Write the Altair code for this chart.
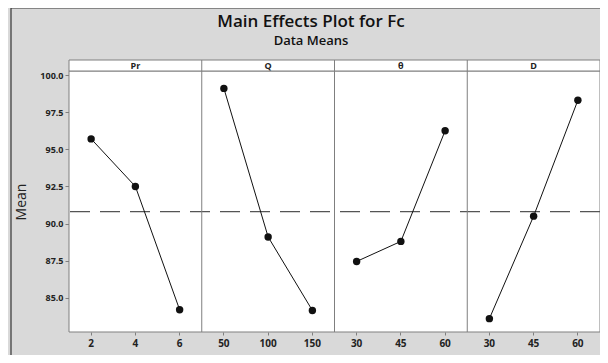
import altair as alt
import pandas as pd

title_text = "Main Effects Plot for Fc"
subtitle_text = "Data Means"
factors = ["Pr", "Q", "θ", "D"]
levels = [["2", "4", "6"], ["50", "100", "150"], ["30", "45", "60"], ["30", "45", "60"]]
means = [[95.7, 92.5, 84.2], [99.1, 89.1, 84.15], [87.45, 88.8, 96.25], [83.6, 90.5, 98.3]]
y_ticks = [85.0, 87.5, 90.0, 92.5, 95.0, 97.5, 100.0]

rows = []
for f, lv, mv in zip(factors, levels, means):
    for i, (l, m) in enumerate(zip(lv, mv)):
        rows.append({"factor": f, "level": l, "key": f + "|" + l, "idx": i, "value": m})
df = pd.DataFrame(rows)
keys = list(df["key"])

W, H = 531, 261
STRIP = 11
GRID = "#7f7f7f"
BG = "#d9d9d9"

xenc = alt.X("key:N", sort=keys, title=None,
             scale=alt.Scale(type="band", paddingInner=0, paddingOuter=0),
             axis=alt.Axis(labelExpr="split(datum.label, '|')[1]", labelAngle=0,
                           bandPosition=0.5, domain=False, tickSize=3, tickColor=GRID,
                           labelFontWeight="bold", labelFontSize=10, labelColor="#222",
                           labelPadding=3, grid=False))
yscale = alt.Scale(domain=[82.7, 100.27], nice=False, zero=False)
yenc = alt.Y("value:Q", scale=yscale, title="Mean",
             axis=alt.Axis(values=y_ticks, format=".1f", domain=False, tickSize=4,
                           tickColor=GRID, labelFontWeight="bold", labelFontSize=9,
                           labelColor="#222", labelPadding=2, grid=False,
                           titleFontSize=14, titleFontWeight="normal", titleColor="#222",
                           titlePadding=11))

base = alt.Chart(df)
one = alt.Chart(pd.DataFrame({"a": [0]}))

panel_bg = one.mark_rect(fill="white", stroke=GRID, strokeWidth=1).encode(
    x=alt.value(0), x2=alt.value(W), y=alt.value(0), y2=alt.value(H))

border = one.mark_rule(color="#333", strokeWidth=1.2).encode(
    x=alt.value(-58), y=alt.value(-63), y2=alt.value(H + 30))
border_top = one.mark_rule(color="#333", strokeWidth=1.2).encode(
    x=alt.value(-58), x2=alt.value(W + 10), y=alt.value(-63))

title = one.mark_text(font="Open Sans", fontSize=17, fontWeight=600, color="#111",
                      baseline="alphabetic", align="center").encode(
    x=alt.value(242), y=alt.value(-44.5), text=alt.value(title_text))
subtitle = one.mark_text(font="Open Sans", fontSize=13, fontWeight=600, color="#111",
                         baseline="alphabetic", align="center").encode(
    x=alt.value(242), y=alt.value(-26), text=alt.value(subtitle_text))

strip = one.mark_rect(fill="white", stroke=GRID, strokeWidth=1).encode(
    x=alt.value(0), x2=alt.value(W), y=alt.value(-STRIP), y2=alt.value(0))

dividers = base.transform_filter("datum.idx == 0 && datum.factor != 'Pr'").mark_rule(
    color=GRID, strokeWidth=1).encode(
    x=alt.X("key:N", sort=keys, bandPosition=0), y=alt.value(-STRIP), y2=alt.value(H))

labels = base.transform_filter("datum.idx == 1").mark_text(
    fontWeight="bold", fontSize=9, color="#222", baseline="middle").encode(
    x=alt.X("key:N", sort=keys, bandPosition=0.5), y=alt.value(-STRIP / 2), text="factor:N")

meanline = base.mark_rule(color="#555", strokeWidth=1.3, strokeDash=[20, 10]).encode(
    y=alt.Y("mean(value):Q", scale=yscale))

lines = base.mark_line(color="#111", strokeWidth=1).encode(
    x=xenc, y=yenc, detail="factor:N")
points = base.mark_point(filled=True, color="#111", size=55, opacity=1, shape="circle").encode(
    x=alt.X("key:N", sort=keys, bandPosition=0.5), y=alt.Y("value:Q", scale=yscale))

chart = alt.layer(panel_bg, border, border_top, title, subtitle, strip, meanline, lines,
                  dividers, points, labels).properties(
    width=W, height=H,
    background=BG,
    padding={"left": 61, "top": 63, "right": 0, "bottom": 23},
    autosize=alt.AutoSizeParams(type="none"),
).configure_view(stroke=None).configure(font="Open Sans")

chart.save("out.html", embed_options={"renderer": "svg", "actions": False})
